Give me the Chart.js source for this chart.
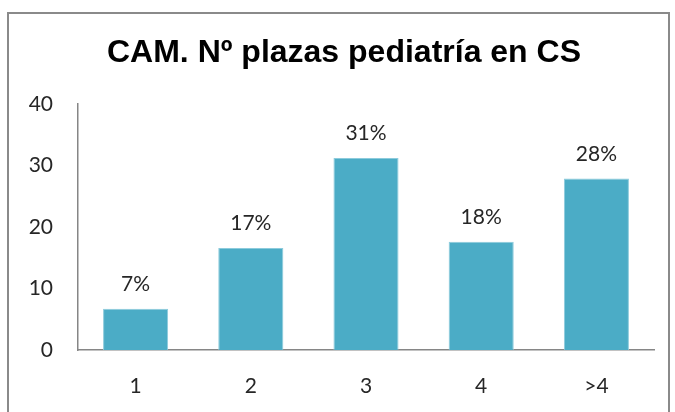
<!DOCTYPE html>
<html>
<head>
<meta charset="utf-8">
<script src="https://cdn.jsdelivr.net/npm/chart.js@4.4.1/dist/chart.umd.min.js"></script>
<style>
  html, body { margin:0; padding:0; background:#fff; width:675px; height:412px; overflow:hidden; }
  #frame { position:absolute; left:7px; top:12px; width:659px; height:420px; border:2px solid #8a8a8a; }
  #c { position:absolute; left:0; top:0; }
</style>
</head>
<body>
<div id="frame"></div>
<canvas id="c" width="675" height="412"></canvas>
<script>
// ── Données ──────────────────────────────────────────────────────────────────
const categories = ['1', '2', '3', '4', '>4'];
const values     = [6.7, 16.6, 31.2, 17.6, 27.9];
const valueLabels = ['7%', '17%', '31%', '18%', '28%'];
const yTicks     = [0, 10, 20, 30, 40];

const tickFont = { family: 'Lato, "Open Sans", sans-serif', size: 21 };
const textColor = '#262626';

// étiquettes au-dessus des barres
const barLabels = {
  id: 'barLabels',
  afterLayout(chart) {
    // titre un peu décalé vers la droite, comme dans l'original
    if (chart.titleBlock) chart.titleBlock.left += 14;
  },
  afterDatasetsDraw(chart) {
    const ctx = chart.ctx, meta = chart.getDatasetMeta(0);
    ctx.save();
    ctx.font = tickFont.size + 'px ' + tickFont.family;
    ctx.fillStyle = textColor;
    ctx.textAlign = 'center'; ctx.textBaseline = 'bottom';
    meta.data.forEach((bar, i) => ctx.fillText(valueLabels[i], bar.x, bar.y - 14));
    ctx.restore();
  }
};

new Chart(document.getElementById('c'), {
  type: 'bar',
  data: {
    labels: categories,
    datasets: [{
      data: values,
      backgroundColor: '#4BACC6',
      borderColor: '#8ccbdc',
      borderWidth: 1,
      barPercentage: 0.565,
      categoryPercentage: 1,
    }]
  },
  options: {
    responsive: false,
    animation: false,
    layout: { padding: { left: 20, right: 21, top: 0, bottom: 0 } },
    plugins: {
      legend: { display: false },
      tooltip: { enabled: false },
      title: {
        display: true,
        text: 'CAM. Nº plazas pediatría en CS',
        color: '#000',
        font: { family: '"Liberation Sans", Arial, sans-serif', size: 32, weight: 'bold' },
        padding: { top: 34, bottom: 31.6 },
      },
    },
    scales: {
      x: {
        grid: { display: false, drawTicks: false },
        border: { color: '#868686', width: 1.5 },
        ticks: { color: textColor, font: tickFont, padding: 24 },
        afterFit: s => { s.height = 62; },
      },
      y: {
        min: 0, max: 40,
        afterBuildTicks: s => { s.ticks = yTicks.map(v => ({ value: v })); },
        grid: { display: false, drawTicks: false },
        border: { color: '#868686', width: 1.5 },
        ticks: { color: textColor, font: tickFont, padding: 25 },
        afterFit: s => { s.width = 58; },
      },
    },
  },
  plugins: [barLabels],
});
</script>
</body>
</html>
